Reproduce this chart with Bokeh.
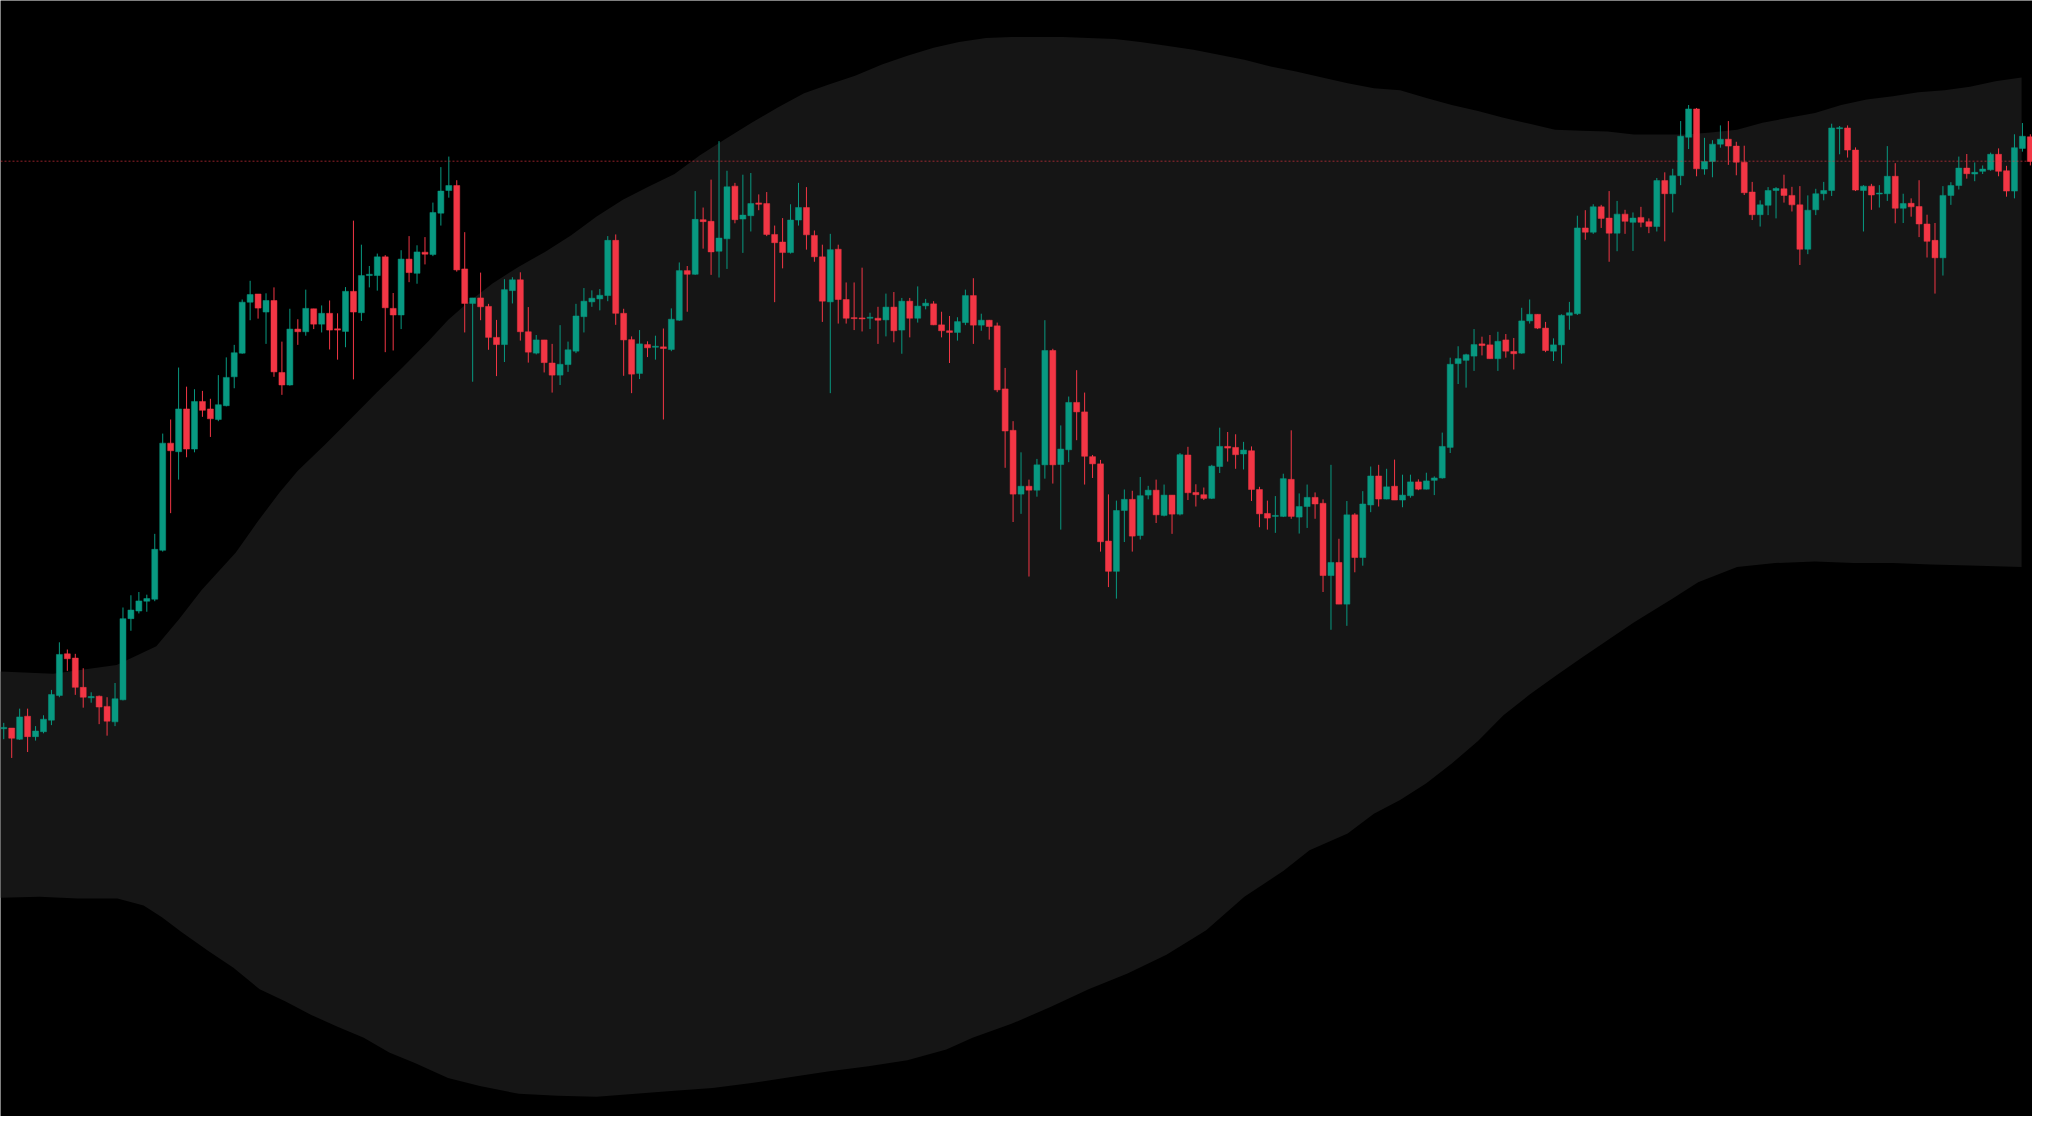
import numpy as np
from bokeh.plotting import figure
from bokeh.models import Range1d, Span, ColumnDataSource
from bokeh.embed import file_html
from bokeh.resources import INLINE

# ---------------- data (price units, arbitrary scale) ----------------
opens = [
    393.3, 394, 382.7, 406, 385.3, 390.3, 402, 427, 469.3, 465,
    435.3, 424.7, 426.3, 416, 400.3, 422.7, 505, 512.7, 522.7, 524.7,
    574.3, 683, 674.3, 717.7, 677, 725.3, 717.7, 707, 721, 750.3,
    774.3, 826, 834.3, 816, 827.7, 754.7, 742, 798.7, 796, 819.3,
    803.7, 814.7, 799, 796.3, 837, 815.3, 853, 853, 872, 819.7,
    813, 869.7, 855.3, 876.7, 874.3, 916.3, 939.3, 944.3, 859.7, 824.7,
    830.3, 821.7, 790.3, 783, 837.7, 848.7, 796, 774.3, 787.7, 764.3,
    752, 762.7, 776.3, 811.3, 826.3, 829.3, 832.7, 888.7, 814.7, 788,
    753.7, 783, 780.3, 780.7, 778, 807.7, 858, 854.3, 909.7, 908,
    877.7, 890.3, 943.7, 910.3, 913.7, 926.7, 926, 894.7, 887, 876.3,
    909.3, 922, 893.7, 872, 826.3, 879.7, 828.7, 810.3, 810, 809.7,
    809.7, 808, 821, 797.7, 827, 809.7, 822.3, 824.3, 803, 797,
    795.3, 805.3, 832.7, 802.7, 807.7, 802, 738, 696, 631.3, 639.3,
    635.3, 661, 777, 661.3, 676.3, 724.3, 714.7, 669.3, 662, 583.7,
    553, 614.7, 626, 589.3, 630.3, 635.3, 609.7, 630.3, 611, 671,
    633, 630.7, 627, 659.3, 679.7, 678.7, 672, 675.3, 636, 611.7,
    608.7, 608.7, 646.3, 608, 618.7, 628, 622, 548.7, 562, 519.7,
    610.3, 567, 620.3, 649.7, 626.3, 639.3, 625.3, 629.7, 643.7, 636.3,
    645.3, 647.7, 678.7, 763.7, 767, 771.3, 783.7, 782.7, 768.7, 787.7,
    776, 774.3, 807, 813.7, 799.7, 776.3, 782.7, 812.7, 814.3, 901.3,
    897, 922.7, 911.3, 896, 915.3, 907, 912, 907.7, 902.7, 949.3,
    936, 954.3, 993.3, 1022, 961, 968.7, 986.3, 991.3, 984.3, 968,
    937.7, 914.7, 924.3, 939.3, 941, 934.3, 924.7, 879.7, 919.7, 936,
    939.3, 1002, 1002.7, 980.3, 939.3, 943.7, 935.7, 936, 953.7, 921.3,
    926.3, 923, 905.3, 888.7, 871, 934.3, 944.3, 962, 956, 958.7,
    960.3, 976, 959.3, 938.7, 982, 993.7,
]
highs = [
    399.3, 394, 413.7, 413.7, 396, 407, 432.7, 481, 473.7, 469.3,
    454.7, 430.3, 427, 425.3, 439.7, 516.3, 528.7, 532, 529.3, 591,
    692.7, 707, 759.7, 740.3, 737.7, 736, 728, 752, 770, 782.7,
    828.7, 847.7, 834.3, 835, 841, 786, 819.3, 808.7, 838.7, 819.3,
    822.7, 827.7, 814.7, 841.3, 908.7, 884.3, 862.7, 875.3, 873.7, 835.3,
    878.7, 893, 883.7, 892, 927, 963, 973.7, 949.7, 897, 830.3,
    856, 824.3, 808, 849.3, 851.3, 856.3, 821, 792.7, 787.7, 783.7,
    802.7, 786, 824.3, 840.3, 838, 839.3, 893, 894.7, 819.3, 791.3,
    797.7, 786.3, 792, 799.3, 819.7, 866.3, 862.7, 938.7, 922, 950.3,
    989.3, 959.3, 947, 955.3, 957, 935.3, 937.7, 903.7, 911.3, 925.3,
    947, 942.7, 898.7, 884.3, 895.3, 884.3, 846, 846, 861, 815.3,
    821.3, 834.7, 836.3, 830.3, 830.3, 842, 829.3, 827, 816.3, 812,
    810.7, 838.7, 850.3, 814.3, 808, 805.3, 759.3, 705.3, 673.7, 646,
    667, 807.7, 778.7, 701, 730.3, 757, 734.3, 671, 666, 631,
    624.7, 636, 634.7, 648.7, 639.7, 646, 641, 630.3, 673, 679.3,
    641.3, 638, 661, 698.7, 694.3, 692, 684.3, 679.7, 638.7, 624.7,
    629.3, 652, 696, 632, 641, 633, 626, 661, 586, 624.3,
    612, 634.3, 659.3, 661, 657, 666.3, 651, 651, 646.3, 653,
    649.3, 693.7, 769.7, 781.3, 773.7, 798.7, 791, 792.7, 796, 793.7,
    789.7, 820.3, 828.7, 813.7, 806, 789.3, 813.7, 826.3, 913.7, 919.3,
    925.3, 924.7, 938.7, 928.7, 919.7, 917, 922.7, 911, 952, 957.7,
    961.3, 1009.7, 1026, 1023, 992.7, 990.3, 1005.3, 1009.7, 988.7, 984.7,
    948, 929.3, 942.7, 942.7, 955.3, 943, 943.7, 934.3, 941, 948,
    1007, 1004.7, 1005.3, 983, 944.7, 946, 944.7, 984.3, 967, 936,
    931.3, 949.7, 914.7, 906.3, 943.7, 947.7, 973.7, 976.3, 967.7, 964.7,
    977.7, 982, 964.3, 996.3, 1007.7, 996.3,
]
lows = [
    382.7, 363.7, 382, 369.7, 381.3, 388.7, 397, 425.3, 452, 427.7,
    414.7, 419.7, 398, 386.3, 396, 422, 492.7, 510.3, 512, 522.7,
    573, 612, 646, 668.7, 673.7, 709.7, 689.3, 705.3, 720.3, 738.7,
    773.7, 807.7, 809.3, 783.7, 750.3, 732, 741.3, 782.7, 792, 798.7,
    795.3, 778, 767.7, 780.3, 747.7, 807, 841, 837.7, 775.3, 777,
    798.7, 846.3, 844.7, 864.3, 872.7, 903.7, 932, 857, 795.3, 745.3,
    807.7, 777.7, 751, 765.3, 824.7, 787, 764.7, 773, 754.7, 734.3,
    742, 755.3, 774.3, 795.3, 821.3, 817.7, 827, 803, 751.3, 733.7,
    748, 770.3, 767.7, 707, 776.3, 807, 816.3, 853.7, 880.3, 853.7,
    851, 859.7, 906, 876, 897.7, 919.3, 893, 826, 860.3, 875.3,
    903.7, 879.3, 867, 806, 733.7, 804.3, 804.3, 797.7, 796.3, 798.7,
    783.7, 791.3, 785.3, 773.7, 790.3, 805.3, 818.7, 802.7, 790.3, 764.3,
    787, 802.7, 783.7, 797, 788, 734.7, 658, 603, 611.3, 547.7,
    628.7, 647, 642, 595.3, 663.7, 686, 641, 647.7, 573, 537,
    525.3, 582.7, 573, 585.3, 626, 602, 608.7, 591, 609.7, 625.3,
    618.7, 625.3, 626.3, 652.7, 664.3, 657, 656.3, 624.3, 597.7, 595.3,
    592, 608, 606.3, 591.3, 597, 606.3, 532, 493.7, 519.7, 497.7,
    552, 558.7, 613, 618.7, 626, 625.3, 618, 627.7, 635.3, 636,
    630.3, 647, 673, 743, 739.3, 756.3, 772, 768.7, 756.3, 769.7,
    757.7, 773.7, 804.3, 798.7, 775.3, 766.3, 763.7, 798, 813, 889.3,
    895.3, 901.3, 867, 877.7, 895.3, 878, 902, 896, 897.7, 887.7,
    917, 944.7, 981.3, 953.7, 955.3, 952.7, 982.7, 965.3, 954.7, 934.7,
    909.3, 902.7, 914.3, 911, 927, 918, 863.7, 874.7, 914.3, 929.3,
    933.7, 976, 972.7, 938.7, 897.7, 919.7, 922, 928.7, 906, 906.3,
    912.7, 892, 871.3, 834.7, 853, 924.7, 940.3, 951.3, 948.7, 956,
    959.3, 953.7, 933, 931.3, 978.7, 964.7,
]
closes = [
    394.7, 383.7, 405.3, 385.3, 391, 403, 428, 468.7, 464.3, 435.3,
    425.3, 426, 415.3, 401, 423.7, 505, 513.7, 523, 525.3, 575.3,
    683, 675.3, 717.7, 677, 725.3, 716.3, 707.7, 722, 749.7, 774.7,
    826, 833.7, 820, 827.7, 755.3, 742, 798.7, 796, 819.7, 803.7,
    814.7, 797.7, 797.7, 837, 816, 853, 854.3, 872, 820.3, 813,
    869.7, 856, 877, 874.7, 917, 938.7, 944.3, 858.7, 824.7, 830.3,
    821.3, 790.3, 783, 838.7, 848.7, 796, 775.3, 787.7, 764.7, 752,
    763, 777.7, 812, 827, 830, 833, 888.7, 814.7, 787.7, 753,
    783.7, 779.7, 781.3, 779, 808.7, 858, 854.3, 910, 907.7, 877,
    891, 943, 909.7, 914.3, 926, 925.3, 894.7, 886.3, 876.3, 909.3,
    922, 894.3, 872, 827, 879.3, 828.7, 809.7, 809.3, 809, 810.7,
    807.7, 821, 797, 827, 809.7, 822, 825, 803, 797, 795.3,
    806.3, 832.7, 802.7, 807.7, 801.3, 737, 695.3, 631.3, 639.3, 635.3,
    661, 777, 661, 677, 724.3, 714.7, 669.7, 662, 583, 553,
    614.7, 626, 588.7, 629.7, 635.3, 610.3, 630.3, 611, 671.3, 632.7,
    630.7, 627, 659.7, 679.7, 678, 671.3, 676, 636, 611.3, 607,
    609.7, 647, 608.7, 618.7, 628, 621.3, 548.7, 562, 519.7, 610.3,
    567, 621.3, 649.7, 626.3, 638.7, 625.3, 630.3, 643.7, 636.3, 644.7,
    647.7, 679.7, 763, 768.7, 772.7, 783, 782, 768.7, 786.3, 776.3,
    773.7, 807, 813.7, 799.7, 777, 782.7, 812.7, 815.3, 901.3, 897,
    922.7, 911, 896, 915.3, 908, 911.3, 907, 902.7, 949.3, 936,
    954.3, 994.3, 1022, 961.3, 968.7, 986.3, 991.3, 984.3, 968, 937,
    914.7, 924.7, 939.3, 941.3, 934.3, 924.7, 879.7, 919.3, 936, 939.3,
    1002.7, 1003, 980.3, 939.7, 943.7, 934.7, 936.7, 953.7, 921.3, 926,
    922.7, 905.3, 887.7, 871, 934.3, 944.3, 962, 956.3, 957.7, 961,
    976, 958.7, 938.7, 982.7, 994.3, 968.7,
]

# envelope band (bar position, price) read along its edges
upper_x = [-0.4, 6.2, 14.2, 19.2, 22.1, 24.9, 29.2, 32.0, 34.7, 37.0,
           40.4, 43.7, 46.9, 50.2, 53.4, 55.9, 58.3, 61.5, 64.8, 68.1,
           71.4, 74.6, 77.9, 81.1, 84.4, 87.6, 90.9, 94.1, 97.5, 100.7,
           103.9, 107.2, 110.5, 113.7, 117.0, 120.2, 123.6, 126.8, 130.1, 133.3,
           136.5, 139.8, 143.0, 146.3, 149.7, 152.9, 156.1, 159.4, 162.6, 165.9,
           169.1, 172.4, 175.7, 179.0, 182.2, 185.5, 188.7, 192.0, 195.2, 198.5,
           201.8, 205.1, 208.3, 211.6, 214.8, 218.1, 221.3, 224.6, 227.9, 231.2,
           234.4, 237.7, 240.9, 244.2, 247.4, 250.6, 253.9]
upper_y = [451.3, 449, 458, 477, 505, 534, 572, 604, 633, 655,
           681.5, 708, 734, 760, 786, 808, 825, 845, 862, 877,
           894, 913, 930, 943, 956, 975, 992, 1008, 1024, 1038,
           1047, 1056, 1067, 1076, 1084, 1090, 1094, 1095, 1095, 1095,
           1094, 1093, 1090, 1086, 1082, 1077, 1072, 1065, 1060, 1054,
           1048, 1043, 1041, 1033, 1026, 1020, 1013, 1007, 1001, 1000,
           999, 996, 996, 996, 998, 1001, 1008, 1013, 1018, 1026,
           1031.5, 1035, 1039, 1041, 1044.5, 1050, 1054]
lower_x = [-0.4, 4.5, 9.3, 14.3, 17.6, 19.9, 22.4, 25.7, 28.9, 32.2,
           35.4, 38.7, 42.0, 45.3, 48.5, 51.8, 55.9, 59.9, 64.8, 69.7,
           74.6, 79.5, 84.4, 89.2, 94.1, 99.1, 103.9, 108.8, 113.7, 118.6,
           121.9, 126.8, 131.7, 136.5, 141.4, 146.3, 151.3, 156.1, 161.0, 164.3,
           169.1, 172.4, 175.7, 179.0, 182.2, 185.5, 188.7, 192.0, 195.2, 198.5,
           201.8, 205.1, 209.9, 213.2, 218.1, 222.9, 227.9, 232.8, 237.7, 242.5,
           247.4, 253.9]
lower_y = [222, 223, 221, 221, 214, 202, 187, 168, 151, 129,
           117, 103, 91, 80, 65, 54, 39, 31, 23, 21,
           20, 23, 26, 29, 34, 40, 46, 51, 57, 68,
           80, 94, 111, 129, 145, 164, 189, 223, 249, 270,
           287, 307, 321, 338, 358, 381, 407, 428, 446.5, 465,
           483, 501, 525, 542, 557.5, 561.4, 563, 561.4, 561.4, 560,
           559, 557.5]

last_price_line = 969

# ---------------- figure ----------------
UP = "#089981"
DOWN = "#F23645"

n = len(opens)
bars = np.arange(n)
o = np.array(opens); h = np.array(highs); l = np.array(lows); c = np.array(closes)
colors = [UP if cc >= oo else DOWN for oo, cc in zip(o, c)]
src = ColumnDataSource(dict(
    x=bars, top=np.maximum(o, c), bottom=np.minimum(o, c),
    high=h, low=l, color=colors,
))

p = figure(width=2032, height=1116,
           x_range=Range1d(-0.41, 255.27), y_range=Range1d(0, 1132),
           x_axis_type=None, y_axis_type=None,
           output_backend="svg", toolbar_location=None,
           background_fill_color="#000000", border_fill_color="#000000",
           min_border=0, outline_line_color=None)

band_x = list(upper_x) + list(reversed(lower_x))
band_y = list(upper_y) + list(reversed(lower_y))
p.patch(band_x, band_y, fill_color="#151515", line_color=None)

p.segment(x0="x", y0="high", x1="x", y1="low", color="color", line_width=1, source=src)
p.vbar(x="x", top="top", bottom="bottom", width=0.75, fill_color="color",
       line_color="color", line_width=0.5, source=src)

p.add_layout(Span(location=last_price_line, dimension="width",
                  line_color=DOWN, line_alpha=0.6, line_width=1, line_dash="2 2"))

open("out.html", "w").write(file_html(p, INLINE))
